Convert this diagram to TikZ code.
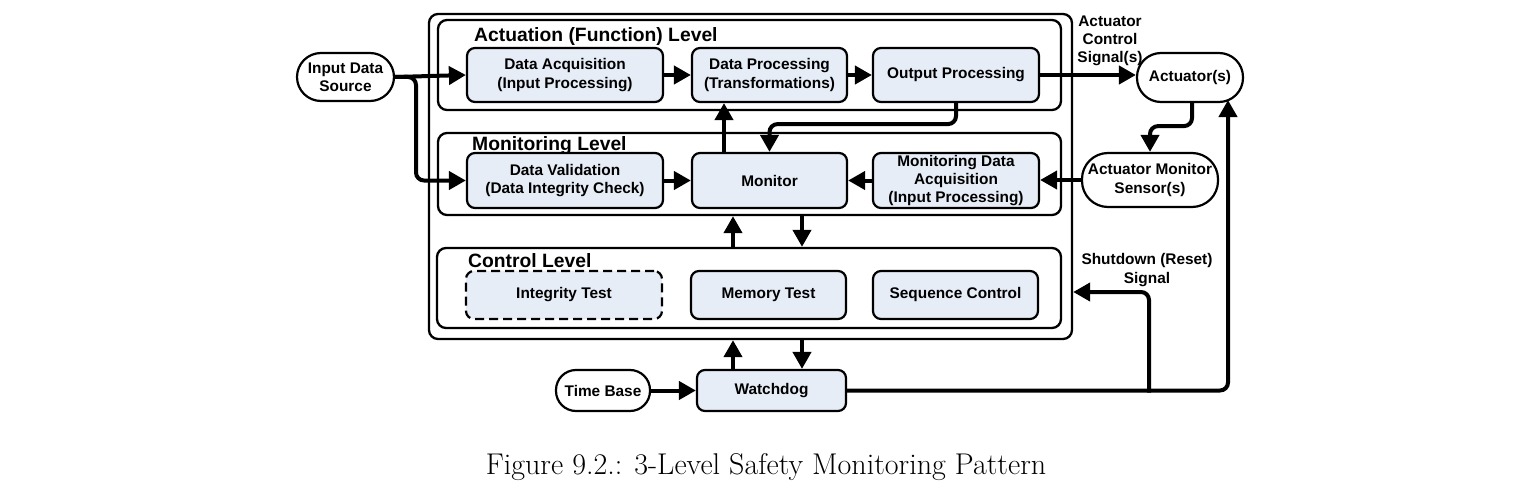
\documentclass[tikz,border=0pt]{standalone}
\usepackage{fontspec}
\setsansfont{Liberation Sans}
\usetikzlibrary{arrows.meta,calc}
\definecolor{boxfill}{RGB}{231,237,247}
\newcommand\bxfont{\fontsize{15.4}{18.2}\selectfont\sffamily\bfseries}
\newcommand\lvfont{\fontsize{19.3}{22}\selectfont\sffamily\bfseries}
\tikzset{
  blk/.style={draw, line width=2.2pt, fill=boxfill, rounded corners=8pt, font=\bxfont, align=center, inner sep=0pt},
  stad/.style={draw, line width=2.2pt, fill=white, font=\bxfont, align=center, inner sep=0pt},
  lvl/.style={draw, line width=2.3pt, rounded corners=9pt, inner sep=0pt},
  arr/.style={line width=4pt, rounded corners=8pt, -{Triangle[length=17pt,width=18pt]}},
  lbl/.style={font=\bxfont, align=center, inner sep=0pt},
  lvlbl/.style={font=\lvfont, anchor=base west, inner sep=0pt}
}
\begin{document}
\begin{tikzpicture}[x=1pt,y=-1pt]
\useasboundingbox (0,0) rectangle (1518,495);
% containers
\node[lvl, minimum width=643pt, minimum height=325pt] (outer) at (750.5,176.5) {};
\node[lvl, minimum width=623pt, minimum height=90pt] (actL) at (749.5,65) {};
\node[lvl, minimum width=623pt, minimum height=82pt] (monL) at (749.5,174) {};
\node[lvl, minimum width=624pt, minimum height=80pt] (ctlL) at (749,288) {};
\node[lvlbl] (actT) at (474,42) {Actuation (Function) Level};
\node[lvlbl] (monT) at (472,150) {Monitoring Level};
\node[lvlbl] (ctlT) at (468,267) {Control Level};
% blocks
\node[stad, rounded corners=24pt, minimum width=97pt, minimum height=48pt] (ids) at (345.5,77) {Input Data\\Source};
\node[blk, minimum width=196pt, minimum height=54pt] (da) at (565,75) {Data Acquisition\\(Input Processing)};
\node[blk, minimum width=155pt, minimum height=54pt] (dp) at (769.5,75) {Data Processing\\(Transformations)};
\node[blk, minimum width=166pt, minimum height=54pt] (op) at (956,75) {Output Processing};
\node[stad, rounded corners=24pt, minimum width=106pt, minimum height=49pt] (act) at (1190,77.5) {Actuator(s)};
\node[blk, minimum width=196pt, minimum height=55pt] (dv) at (565,180.5) {Data Validation\\(Data Integrity Check)};
\node[blk, minimum width=155pt, minimum height=55pt] (mon) at (769.5,180.5) {Monitor};
\node[blk, minimum width=166pt, minimum height=55pt] (mda) at (956,180.5) {Monitoring Data\\Acquisition\\(Input Processing)};
\node[stad, rounded corners=26pt, minimum width=136pt, minimum height=54pt] (sens) at (1150,180) {Actuator Monitor\\Sensor(s)};
\node[blk, dash pattern=on 9pt off 5pt, minimum width=196pt, minimum height=48pt] (it) at (564,295) {Integrity Test};
\node[blk, minimum width=155pt, minimum height=48pt] (mt) at (768.5,295) {Memory Test};
\node[blk, minimum width=165pt, minimum height=48pt] (sc) at (955.5,295) {Sequence Control};
\node[blk, minimum width=149pt, minimum height=41pt] (wd) at (771.5,390.5) {Watchdog};
\node[stad, rounded corners=20pt, minimum width=94pt, minimum height=41pt] (tb) at (603,390.5) {Time Base};
% labels
\node[lbl] (acs) at (1110,41) {Actuator\\Control\\Signal(s)};
\node[lbl] (sds) at (1147,270) {Shutdown (Reset)\\Signal};
\node[font=\fontsize{30}{36}\selectfont, anchor=base, inner sep=0pt] (cap) at (766,474) {Figure 9.2.: 3-Level Safety Monitoring Pattern};
% helper coordinates
\coordinate (u) at (733,0);
\coordinate (d) at (802,0);
\coordinate (br) at (416,0);
\coordinate (rv) at (1228,100);
\coordinate (sd) at (1149,292);
% connectors
\draw[arr] (ids.east) -- (da.west);
\draw[arr] (ids.east) -- (ids.east -| br) |- (dv.west);
\draw[arr] (da.east) -- (dp.west);
\draw[arr] (dp.east) -- (op.west);
\draw[arr] (op.east) -- (op.east -| act.west);
\draw[arr] (op.south) -- ++(0,21) -| (mon.north);
\draw[arr] ([xshift=-45.5pt]mon.north) -- ([xshift=-45.5pt]dp.south);
\draw[arr] ([xshift=2pt]act.south) -- ++(0,23) -| (sens.north);
\draw[arr] (sens.west) -- (sens.west -| mda.east);
\draw[arr] (mda.west) -- (mon.east);
\draw[arr] (dv.east) -- (mon.west);
\draw[arr] (ctlL.north -| u) -- (monL.south -| u);
\draw[arr] (monL.south -| d) -- (ctlL.north -| d);
\draw[arr] (wd.north -| u) -- (outer.south -| u);
\draw[arr] (outer.south -| d) -- (wd.north -| d);
\draw[arr] (tb.east) -- (wd.west);
\draw[arr] (wd.east) -| (rv);
\draw[arr] ([yshift=-2pt]wd.east -| sd) |- (outer.east |- sd);
\end{tikzpicture}
\end{document}
